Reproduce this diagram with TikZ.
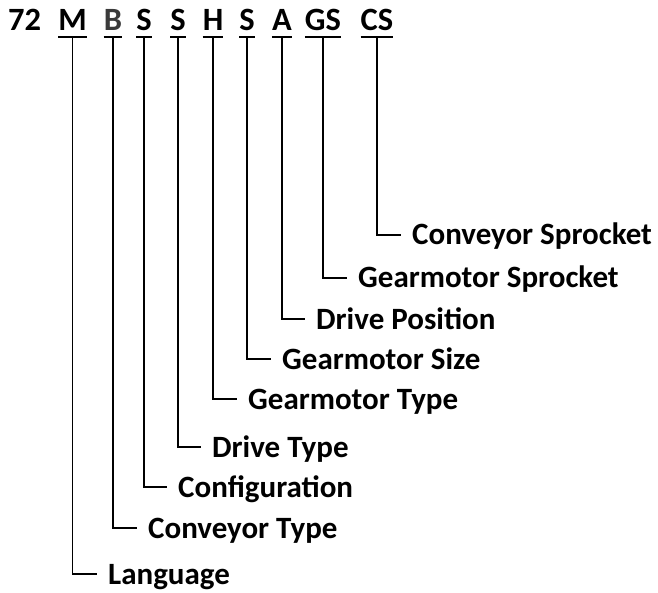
\documentclass[tikz,border=0pt]{standalone}
\usepackage{fontspec}
\setmainfont{Carlito}
\definecolor{bgrey}{HTML}{3A3A3A}
\begin{document}
\begin{tikzpicture}[x=1pt,y=-1pt,
  code/.style={anchor=base,inner sep=0pt,font=\bfseries\fontsize{32.5}{38}\selectfont},
  lab/.style={anchor=west,inner xsep=11pt,inner ysep=0pt,text height=20pt,text depth=0pt,font=\bfseries\fontsize{31}{36}\selectfont},
  ln/.style={line width=1.6pt,black},
  ul/.style={line width=1.6pt,black}]
\useasboundingbox (0,0) rectangle (658,593);
% code letters
\node[code,anchor=base west] (n72) at (8,31) {72};
\node[code] (cM) at (72.5,31) {M};
\node[code,text=bgrey] (cB) at (113,31) {B};
\node[code] (cS1) at (144,31) {S};
\node[code] (cS2) at (178,31) {S};
\node[code] (cH) at (213,31) {H};
\node[code] (cS3) at (247,31) {S};
\node[code] (cA) at (282,31) {A};
\node[code] (cGS) at (323,31) {GS};
\node[code] (cCS) at (377,31) {CS};
% underlines
\foreach \n in {cM,cB,cS1,cS2,cH,cS3,cA,cGS,cCS}{
  \draw[ul] ([yshift=-6pt]\n.base west) -- ([yshift=-6pt]\n.base east);
}
% labels
\node[lab] (lCS) at (401,235) {Conveyor Sprocket};
\node[lab] (lGS) at (347,278) {Gearmotor Sprocket};
\node[lab] (lA)  at (305,319) {Drive Position};
\node[lab] (lS3) at (271,359) {Gearmotor Size};
\node[lab] (lH)  at (237,399) {Gearmotor Type};
\node[lab] (lS2) at (201,447) {Drive Type};
\node[lab] (lS1) at (167,487) {Configuration};
\node[lab] (lB)  at (137,528) {Conveyor Type};
\node[lab] (lM)  at (97,574) {Language};
% connectors
\foreach \c/\l in {cM/lM,cB/lB,cS1/lS1,cS2/lS2,cH/lH,cS3/lS3,cA/lA,cGS/lGS,cCS/lCS}{
  \draw[ln] ([yshift=-6pt]\c.base) |- (\l.west);
}
\end{tikzpicture}
\end{document}
